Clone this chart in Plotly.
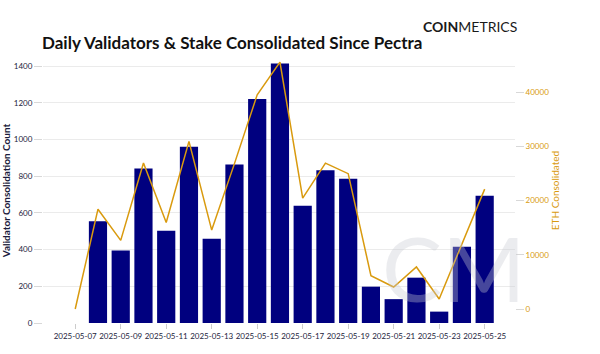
import plotly.graph_objects as go

dates = ["2025-05-07", "2025-05-08", "2025-05-09", "2025-05-10", "2025-05-11", "2025-05-12",
         "2025-05-13", "2025-05-14", "2025-05-15", "2025-05-16", "2025-05-17", "2025-05-18",
         "2025-05-19", "2025-05-20", "2025-05-21", "2025-05-22", "2025-05-23", "2025-05-24",
         "2025-05-25"]
validators = [0, 555, 395, 842, 502, 960, 459, 864, 1220, 1414, 639, 833, 786, 198, 130, 247, 62, 416, 693]
eth = [0, 18400, 12650, 26900, 15950, 30900, 14550, 26800, 39500, 45500, 20450, 26900, 24950,
       6150, 4050, 7750, 1850, 11900, 22100]
xticks = ["2025-05-07", "2025-05-09", "2025-05-11", "2025-05-13", "2025-05-15",
          "2025-05-17", "2025-05-19", "2025-05-21", "2025-05-23", "2025-05-25"]

navy = "#00007f"
gold = "#d99a0e"
dark = "#1c1c3c"

fig = go.Figure()
fig.add_trace(go.Bar(x=dates, y=validators, marker_color=navy, marker_line_width=0,
                     width=0.8 * 86400000, name="Validators"))
fig.add_trace(go.Scatter(x=dates, y=eth, yaxis="y2", mode="lines",
                         line=dict(color=gold, width=1.5), name="ETH"))

fig.update_layout(
    width=600, height=354,
    margin=dict(l=43, r=85, t=58, b=31, autoexpand=False),
    plot_bgcolor="white", paper_bgcolor="white",
    showlegend=False,
    font=dict(family="Lato", color=dark),
    title=dict(text="<b>Daily Validators & Stake Consolidated Since Pectra</b>",
               x=0.07, xanchor="left", y=0.877, yanchor="middle",
               font=dict(family="Lato", size=17, color="#111111")),
    xaxis=dict(type="date", range=["2025-05-05 14:00", "2025-05-26 08:00"],
               tickvals=xticks, tickangle=0, automargin=False,
               tickformat="%Y-%m-%d", ticks="outside", ticklen=5, tickcolor="#cccccc",
               tickfont=dict(size=8, color=dark, family="Lato"), showgrid=False,
               showline=False, zeroline=False),
    yaxis=dict(range=[0, 1444], tickvals=[0, 200, 400, 600, 800, 1000, 1200, 1400],
               ticks="outside", ticklen=8, tickcolor="#d8d8d8", automargin=False,
               tickfont=dict(size=8, color=dark, family="Lato"),
               gridcolor="#ebebeb", gridwidth=1, zeroline=False,
               title=dict(text="<b>Validator Consolidation Count</b>",
                          font=dict(size=10, color=dark, family="Lato"), standoff=4)),
    yaxis2=dict(overlaying="y", side="right", range=[-2580, 46270],
                tickvals=[0, 10000, 20000, 30000, 40000], tickformat="d",
                ticks="outside", ticklen=8, tickcolor="#d8d8d8", automargin=False,
                tickfont=dict(size=8, color=gold, family="Lato"),
                showgrid=False, zeroline=False,
                title=dict(text="ETH Consolidated", font=dict(size=10, color=gold, family="Lato"),
                           standoff=2)),
)

fig.add_annotation(xref="paper", yref="paper", x=0.80, y=1.12, xanchor="left", yanchor="middle",
                   text="<b>COIN</b>METRICS", showarrow=False,
                   font=dict(family="Lato", size=14, color="#1a1a1a"))
fig.add_annotation(xref="paper", yref="paper", x=0.87, y=0.0, xanchor="center", yanchor="bottom",
                   text="CM", showarrow=False, opacity=0.35,
                   font=dict(family="Lato", size=90, color="#c8cad2"))

fig.write_html("out.html")
